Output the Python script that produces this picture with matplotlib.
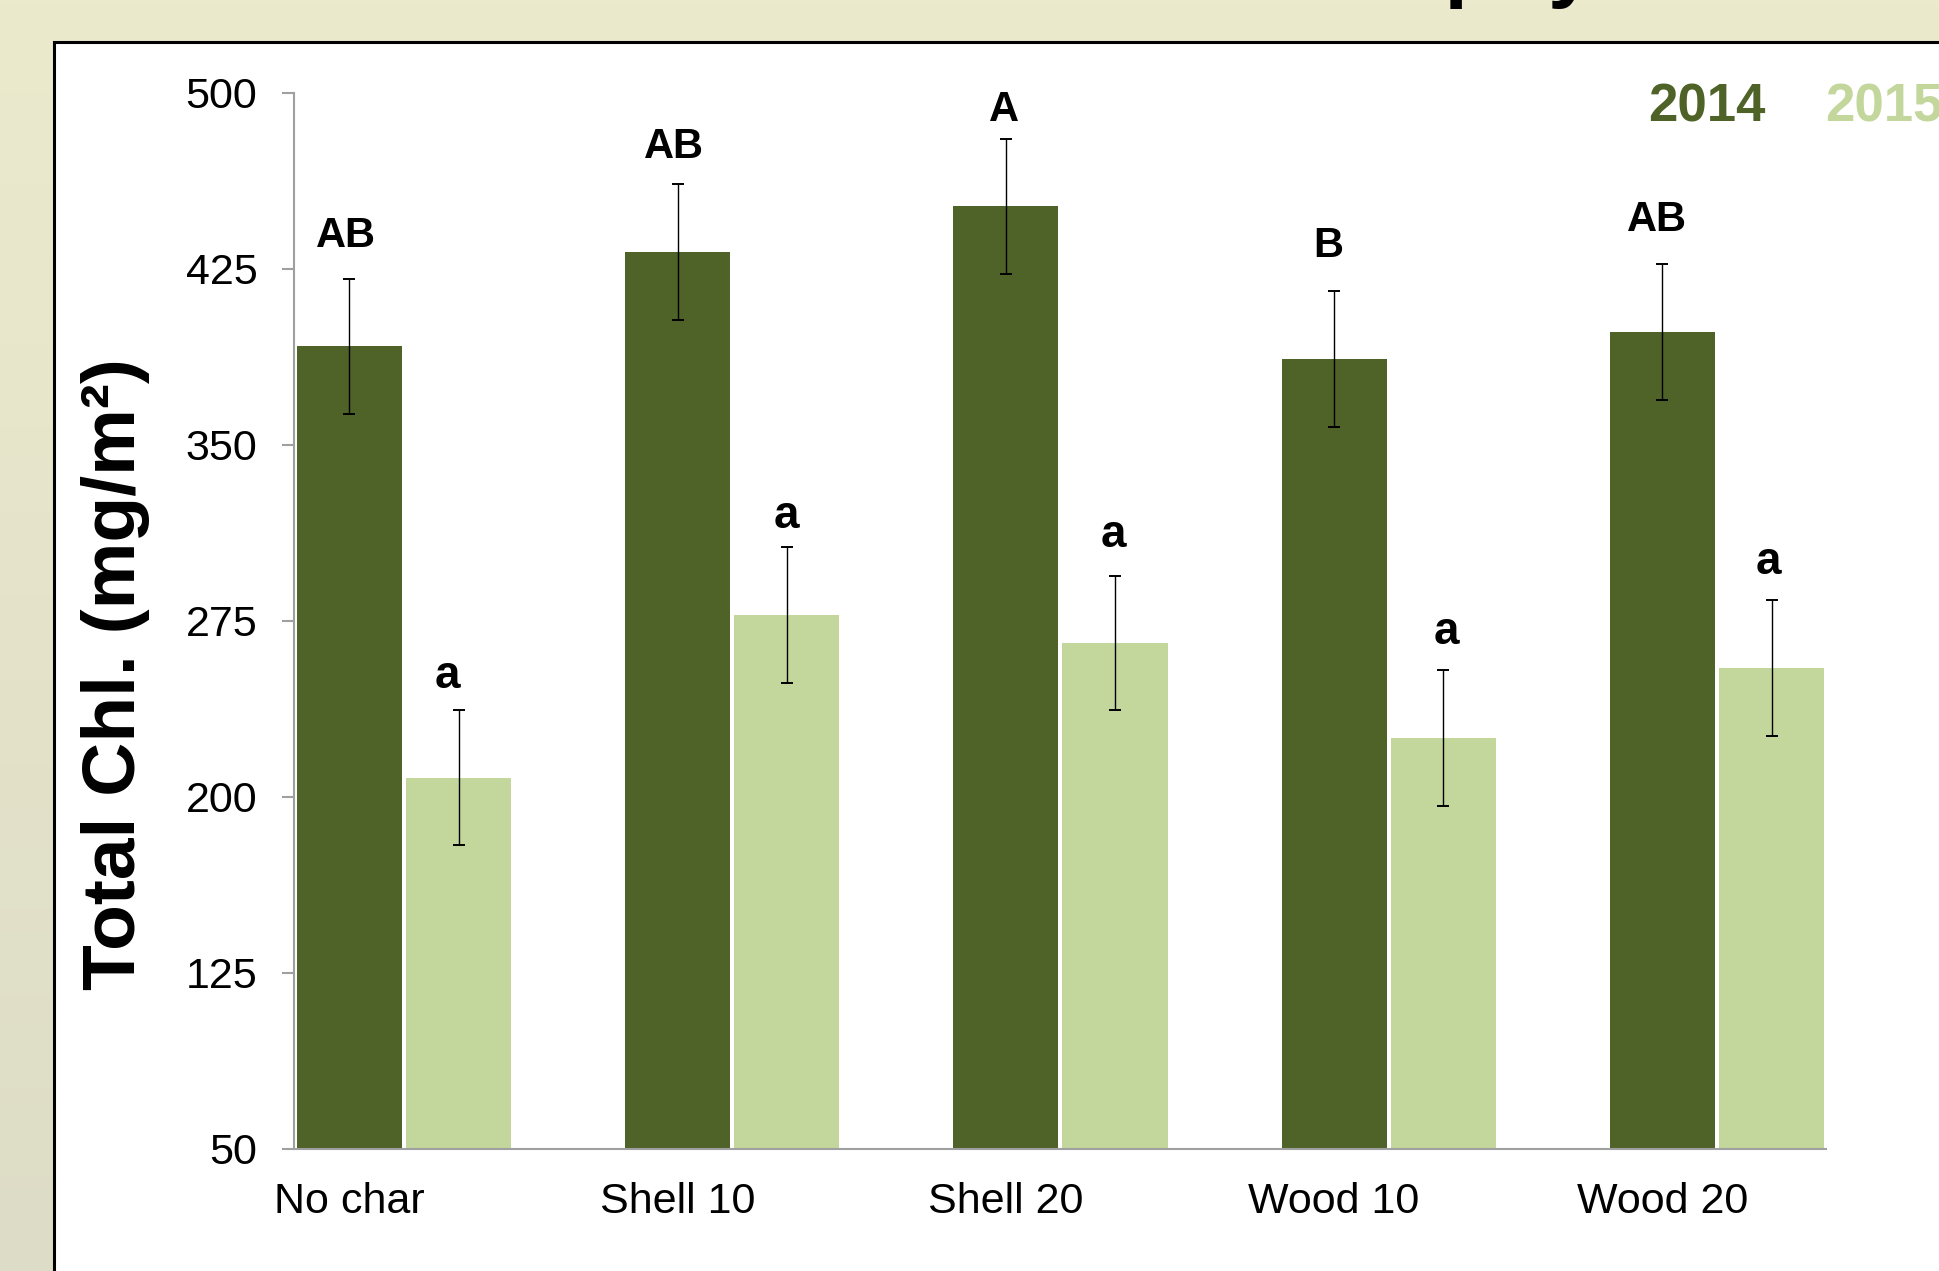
import numpy as np
import matplotlib
matplotlib.use("Agg")
import matplotlib.pyplot as plt
from matplotlib.patches import Rectangle

# ---- data ----
treatments = ["No char", "Shell 10", "Shell 20", "Wood 10", "Wood 20"]
years = ["2014", "2015"]
chl_2014 = [392.0, 432.0, 451.6, 386.7, 397.9]
chl_2015 = [208.1, 277.6, 265.5, 224.9, 255.0]
err_2014 = [28.8, 29.0, 28.7, 29.0, 29.0]
err_2015 = [28.7, 29.0, 28.7, 29.0, 29.0]
letters_2014 = ["AB", "AB", "A", "B", "AB"]
letters_2015 = ["a", "a", "a", "a", "a"]
y_ticks = [50, 125, 200, 275, 350, 425, 500]

# ---- style ----
DARK = "#4F6228"
LIGHT = "#C3D69B"
AXIS_GREY = "#A0A0A0"
W, H = 1939, 1271
plt.rcParams["font.family"] = ["Liberation Sans", "DejaVu Sans"]

# letter placement tweaks (pixels: dx, gap above error cap)
dx_2014 = [-3, -3.6, -1.7, -6, -5.3]
gap_2014 = [32, 26, 18.3, 33.6, 33]
dx_2015 = [-10.9, -0.3, -2.1, 3.5, -3.2]
gap_2015 = [22.6, 18.6, 28.4, 26, 26]

fig = plt.figure(figsize=(W / 100, H / 100), dpi=100)

# slide background: soft beige gradient
bg = fig.add_axes([0, 0, 1, 1], zorder=-10)
top_c = np.array([236, 234, 205]) / 255
bot_c = np.array([221, 220, 198]) / 255
t = np.linspace(0, 1, 256)[:, None, None]
grad = top_c * (1 - t) + bot_c * t
grad = np.repeat(grad, 2, axis=1)
bg.imshow(grad, aspect="auto", extent=[0, 1, 0, 1], origin="upper")
bg.set_axis_off()

# slide title (runs off the top edge)
fig.text(952 / W, 1 + 9 / H, "Total Chlorophyll", fontsize=61, fontweight="bold",
         ha="left", va="baseline", color="black")

# white chart panel with black frame
panel = Rectangle((53.5 / W, -0.1), 1.2, 1.1 - 42 / H, transform=fig.transFigure,
                  facecolor="white", edgecolor="black", linewidth=2.2, zorder=-5)
fig.add_artist(panel)

# chart axes
ax_left, ax_right = 294.3, 1826.0
ax_top, ax_bot = 92.7, 1148.8
ax = fig.add_axes([ax_left / W, (H - ax_bot) / H, (ax_right - ax_left) / W,
                   (ax_bot - ax_top) / H])
ax.set_facecolor("none")

x = np.arange(len(treatments))
bar_w = 0.32
offset = 0.3327
ekw = dict(ecolor="black", elinewidth=1.0, capthick=1.4, capsize=4.3)

ax.bar(x, chl_2014, width=bar_w, color=DARK, yerr=err_2014, error_kw=ekw, zorder=2)
ax.bar(x + offset, chl_2015, width=bar_w, color=LIGHT, yerr=err_2015, error_kw=ekw, zorder=2)

for i in range(len(treatments)):
    ax.annotate(letters_2014[i], xy=(x[i], chl_2014[i] + err_2014[i]),
                xytext=(dx_2014[i], gap_2014[i]), textcoords="offset pixels",
                ha="center", va="baseline", fontsize=30, fontweight="bold")
    ax.annotate(letters_2015[i], xy=(x[i] + offset, chl_2015[i] + err_2015[i]),
                xytext=(dx_2015[i], gap_2015[i]), textcoords="offset pixels",
                ha="center", va="baseline", fontsize=33, fontweight="bold")

ax.set_xlim(-0.1676, 4.4987)
ax.set_ylim(50, 500)
ax.set_yticks(y_ticks)
ax.set_xticks(x)
ax.set_xticklabels(treatments)

for side in ["top", "right"]:
    ax.spines[side].set_visible(False)
for side in ["left", "bottom"]:
    ax.spines[side].set_color(AXIS_GREY)
    ax.spines[side].set_linewidth(1.5)

ax.tick_params(axis="y", direction="out", length=8.6, width=1.5, color=AXIS_GREY,
               pad=18, labelsize=31, labelcolor="black")
ax.tick_params(axis="x", length=0, pad=24, labelsize=31, labelcolor="black")

# y-axis title
fig.text(135 / W, 1 - 674 / H, "Total Chl. (mg/m²)", rotation=90, rotation_mode="anchor",
         ha="center", va="baseline", fontsize=54, fontweight="bold")

# year legend
fig.text(1648 / W, (H - 122) / H, years[0], color=DARK, fontsize=38,
         fontweight="bold", ha="left", va="baseline")
fig.text(1825 / W, (H - 122) / H, years[1], color=LIGHT, fontsize=38,
         fontweight="bold", ha="left", va="baseline")

fig.savefig("out.png", dpi=100)
